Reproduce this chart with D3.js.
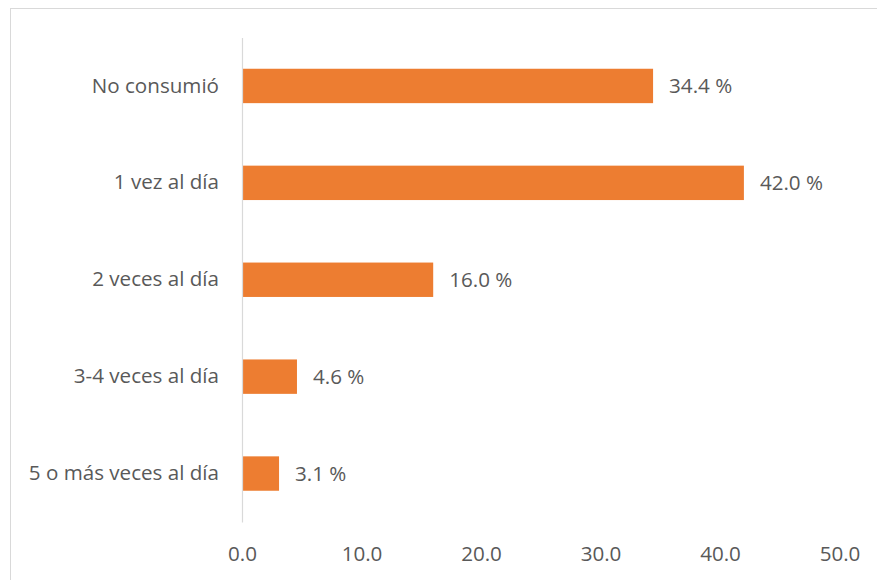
<!DOCTYPE html>
<html>
<head>
<meta charset="utf-8">
<script src="https://cdn.jsdelivr.net/npm/d3@7"></script>
<style>
  html, body { margin: 0; padding: 0; background: #fff; }
  svg { display: block; }
  text { font-family: "Open Sans", "Noto Sans", sans-serif; fill: #595959; }
</style>
</head>
<body>
<svg id="chart" width="877" height="580"></svg>
<script>
// Frequency of consumption (share of respondents, %)
const categories = ["No consumió", "1 vez al día", "2 veces al día", "3-4 veces al día", "5 o más veces al día"];
const values = [34.4, 42.0, 16.0, 4.6, 3.1];
const xTicks = [0, 10, 20, 30, 40, 50];

const svg = d3.select("#chart");
const W = 877, H = 580;
const fontSize = 20.6;

// outer chart frame
svg.append("rect")
  .attr("x", 10.5).attr("y", 8.5)
  .attr("width", W).attr("height", H)
  .attr("fill", "none").attr("stroke", "#d9d9d9").attr("stroke-width", 1);

const x = d3.scaleLinear().domain([0, 50]).range([242, 839.5]);
const y = d3.scaleBand().domain(categories).range([37.5, 522]).paddingInner(0.645).paddingOuter(0.3225);

// value axis labels (no line, no ticks)
const xAxis = svg.append("g")
  .attr("transform", "translate(0,554)")
  .call(d3.axisBottom(x).tickValues(xTicks).tickFormat(d3.format(".1f")).tickSize(0).tickPadding(0));
xAxis.select(".domain").remove();
xAxis.selectAll("text")
  .attr("dy", "0.35em")
  .style("font-size", fontSize + "px")
  .style("font-family", "\"Open Sans\", sans-serif")
  .attr("fill", "#595959");

// bars
svg.append("g").selectAll("rect")
  .data(values)
  .join("rect")
  .attr("x", x(0))
  .attr("y", (d, i) => y(categories[i]))
  .attr("width", d => x(d) - x(0))
  .attr("height", y.bandwidth())
  .attr("fill", "#ED7D31");

// category axis
const yAxis = svg.append("g")
  .attr("transform", `translate(${x(0)},0)`)
  .call(d3.axisLeft(y).tickSize(0).tickPadding(23));
yAxis.select(".domain").attr("stroke", "#d9d9d9").attr("stroke-width", 1.2);
yAxis.selectAll("text")
  .style("font-size", fontSize + "px")
  .style("font-family", "\"Open Sans\", sans-serif")
  .attr("fill", "#595959");

// value labels
svg.append("g").selectAll("text")
  .data(values)
  .join("text")
  .attr("x", d => x(d) + 16)
  .attr("y", (d, i) => y(categories[i]) + y.bandwidth() / 2)
  .attr("dy", "0.35em")
  .style("font-size", fontSize + "px")
  .text(d => d.toFixed(1) + " %");
</script>
</body>
</html>
